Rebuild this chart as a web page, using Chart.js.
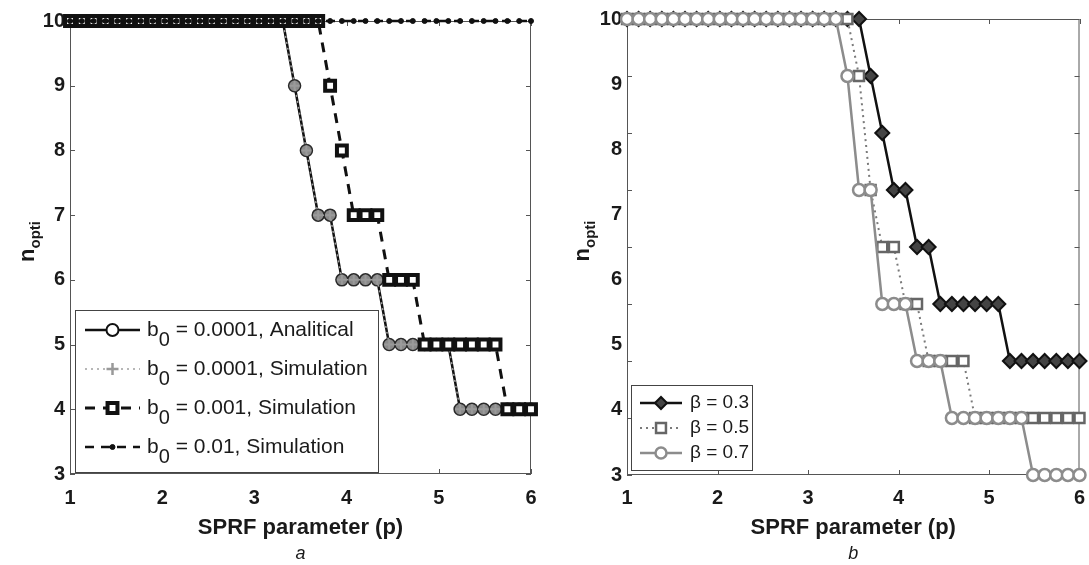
<!DOCTYPE html>
<html>
<head>
<meta charset="utf-8">
<script src="https://cdn.jsdelivr.net/npm/chart.js@4.4.1/dist/chart.umd.min.js"></script>
<style>
  body { margin: 0; background: #fff; width: 1089px; height: 565px; position: relative; overflow: hidden; }
  .panel { position: absolute; top: 0; }
  #panelA { left: 0; }
  #panelB { left: 550px; }
</style>
</head>
<body>
<div class="panel" id="panelA"><canvas id="chartA" width="550" height="565"></canvas></div>
<div class="panel" id="panelB"><canvas id="chartB" width="539" height="565"></canvas></div>
<script>
// SPRF parameter grid, 40 samples between 1 and 6
const pValues = [1.000, 1.128, 1.256, 1.385, 1.513, 1.641, 1.769, 1.897, 2.026, 2.154,
                 2.282, 2.410, 2.538, 2.667, 2.795, 2.923, 3.051, 3.179, 3.308, 3.436,
                 3.564, 3.692, 3.821, 3.949, 4.077, 4.205, 4.333, 4.462, 4.590, 4.718,
                 4.846, 4.974, 5.103, 5.231, 5.359, 5.487, 5.615, 5.744, 5.872, 6.000];

// (a) optimum n for different b0
const nAnalit0001 = [10, 10, 10, 10, 10, 10, 10, 10, 10, 10, 10, 10, 10, 10, 10, 10, 10, 10, 10, 9,
                     8, 7, 7, 6, 6, 6, 6, 5, 5, 5, 5, 5, 5, 4, 4, 4, 4, 4, 4, 4];
const nSim0001    = [10, 10, 10, 10, 10, 10, 10, 10, 10, 10, 10, 10, 10, 10, 10, 10, 10, 10, 10, 9,
                     8, 7, 7, 6, 6, 6, 6, 5, 5, 5, 5, 5, 5, 4, 4, 4, 4, 4, 4, 4];
const nSim001     = [10, 10, 10, 10, 10, 10, 10, 10, 10, 10, 10, 10, 10, 10, 10, 10, 10, 10, 10, 10,
                     10, 10, 9, 8, 7, 7, 7, 6, 6, 6, 5, 5, 5, 5, 5, 5, 5, 4, 4, 4];
const nSim01      = [10, 10, 10, 10, 10, 10, 10, 10, 10, 10, 10, 10, 10, 10, 10, 10, 10, 10, 10, 10,
                     10, 10, 10, 10, 10, 10, 10, 10, 10, 10, 10, 10, 10, 10, 10, 10, 10, 10, 10, 10];

// (b) optimum n for different beta
const nBeta03 = [10, 10, 10, 10, 10, 10, 10, 10, 10, 10, 10, 10, 10, 10, 10, 10, 10, 10, 10, 10,
                 10, 9, 8, 7, 7, 6, 6, 5, 5, 5, 5, 5, 5, 4, 4, 4, 4, 4, 4, 4];
const nBeta05 = [10, 10, 10, 10, 10, 10, 10, 10, 10, 10, 10, 10, 10, 10, 10, 10, 10, 10, 10, 10,
                 9, 7, 6, 6, 5, 5, 4, 4, 4, 4, 3, 3, 3, 3, 3, 3, 3, 3, 3, 3];
const nBeta07 = [10, 10, 10, 10, 10, 10, 10, 10, 10, 10, 10, 10, 10, 10, 10, 10, 10, 10, 10, 9,
                 7, 7, 5, 5, 5, 4, 4, 4, 3, 3, 3, 3, 3, 3, 3, 2, 2, 2, 2, 2];

// axis ticks
const pTicks = [1, 2, 3, 4, 5, 6];
const nTickLabels = [10, 9, 8, 7, 6, 5, 4, 3];
const nTicksB = [10, 9, 8, 7, 6, 5, 4, 3, 2];

const fontFamily = "'Liberation Sans', Arial, Helvetica, sans-serif";
const ink = '#1a1a1a';

const toPoints = ys => pValues.map((p, i) => ({ x: p, y: ys[i] }));

// writes text pieces left to right, pieces flagged true are subscripts
function drawRich(ctx, parts, x, y, f) {
  let cx = x;
  for (const [text, sub] of parts) {
    ctx.font = `${f.weight} ${sub ? f.subSize : f.size}px ${fontFamily}`;
    ctx.fillText(text, cx, sub ? y + f.subShift : y);
    cx += ctx.measureText(text).width;
  }
  return cx;
}

function richWidth(ctx, parts, f) {
  let w = 0;
  for (const [text, sub] of parts) {
    ctx.font = `${f.weight} ${sub ? f.subSize : f.size}px ${fontFamily}`;
    w += ctx.measureText(text).width;
  }
  return w;
}

// axes box with inward ticks, y title, legend and panel letter
const panelDeco = {
  id: 'panelDeco',
  beforeDatasetsDraw(chart, args, o) {
    const { ctx, chartArea: a, scales } = chart;
    const xs = scales.x, ys = scales[o.markScale];
    ctx.save();
    ctx.strokeStyle = '#555';
    ctx.lineWidth = 1;
    ctx.strokeRect(a.left + 0.5, a.top + 0.5, a.width - 1, a.height - 1);
    ctx.beginPath();
    pTicks.forEach(v => {
      const px = Math.round(xs.getPixelForValue(v)) + 0.5;
      ctx.moveTo(px, a.bottom); ctx.lineTo(px, a.bottom - 5);
      ctx.moveTo(px, a.top); ctx.lineTo(px, a.top + 5);
    });
    o.markTicks.forEach(v => {
      const py = Math.round(ys.getPixelForValue(v)) + 0.5;
      ctx.moveTo(a.left, py); ctx.lineTo(a.left + 5, py);
      ctx.moveTo(a.right, py); ctx.lineTo(a.right - 5, py);
    });
    ctx.stroke();
    ctx.restore();
  },
  afterDatasetsDraw(chart, args, o) {
    const { ctx, chartArea: a } = chart;
    ctx.save();
    ctx.fillStyle = ink;
    ctx.textBaseline = 'middle';

    // y title n_opti
    const tf = { weight: 'bold', size: 22, subSize: 15, subShift: 8 };
    const tParts = [['n', false], ['opti', true]];
    ctx.translate(o.titleX, (a.top + a.bottom) / 2 - 6);
    ctx.rotate(-Math.PI / 2);
    drawRich(ctx, tParts, -richWidth(ctx, tParts, tf) / 2, 0, tf);
    ctx.setTransform(1, 0, 0, 1, 0, 0);

    // legend
    const L = o.legend;
    ctx.fillStyle = '#fff';
    ctx.fillRect(L.x, L.y, L.w, L.h);
    ctx.strokeStyle = '#444';
    ctx.lineWidth = 1;
    ctx.strokeRect(L.x + 0.5, L.y + 0.5, L.w, L.h);
    L.items.forEach((it, k) => {
      const cy = L.firstY + k * L.gap;
      ctx.save();
      ctx.strokeStyle = it.line.color;
      ctx.lineWidth = it.line.width;
      ctx.setLineDash(it.line.dash);
      ctx.beginPath();
      ctx.moveTo(L.lineX0, cy); ctx.lineTo(L.lineX1, cy);
      ctx.stroke();
      ctx.setLineDash([]);
      ctx.fillStyle = it.mark.fill;
      ctx.strokeStyle = it.mark.stroke;
      ctx.lineWidth = it.mark.bw;
      Chart.helpers.drawPoint(ctx, { pointStyle: it.mark.style, radius: it.mark.r, rotation: 0, borderWidth: it.mark.bw },
        (L.lineX0 + L.lineX1) / 2, cy);
      ctx.restore();
      ctx.fillStyle = ink;
      drawRich(ctx, it.parts, L.textX, cy, L.font);
    });

    // panel letter
    ctx.font = `italic 18px ${fontFamily}`;
    ctx.textAlign = 'center';
    ctx.fillStyle = ink;
    ctx.fillText(o.letter, (a.left + a.right) / 2, o.letterY);
    ctx.restore();
  }
};

function xScale(height, labelPad, titlePad) {
  return {
    type: 'linear', min: 1, max: 6,
    afterBuildTicks: s => { s.ticks = pTicks.map(v => ({ value: v })); },
    afterFit: s => {
      s.height = height;
      // end labels may hang past the plot box
      s.paddingLeft = 0;
      s.paddingRight = 0;
    },
    grid: { display: false, drawTicks: false },
    border: { display: false },
    ticks: { color: ink, padding: labelPad, autoSkip: false, maxRotation: 0,
             font: { family: fontFamily, size: 20, weight: 'bold' } },
    title: { display: true, text: 'SPRF parameter (p)', color: ink,
             font: { family: fontFamily, size: 22, weight: 'bold' },
             padding: { top: 0, bottom: titlePad } }
  };
}

function labelScale(width) {
  return {
    type: 'linear', position: 'left', min: 3, max: 10,
    afterBuildTicks: s => { s.ticks = nTickLabels.map(v => ({ value: v })); },
    afterFit: s => { s.width = width; },
    grid: { display: false, drawTicks: false },
    border: { display: false },
    ticks: { color: ink, padding: 5, font: { family: fontFamily, size: 20, weight: 'bold' } }
  };
}

function series(data, style, order, yAxisID) {
  return Object.assign({
    data: toPoints(data), order, yAxisID, clip: false, tension: 0, fill: false
  }, style);
}

// panel a
new Chart(document.getElementById('chartA'), {
  type: 'line',
  data: {
    datasets: [
      series(nAnalit0001, {
        label: 'b0 = 0.0001, Analitical', borderColor: '#111', borderWidth: 2.5,
        pointStyle: 'circle', pointRadius: 6, pointBackgroundColor: '#8a8a8a',
        pointBorderColor: '#2a2a2a', pointBorderWidth: 1.5
      }, 4, 'y'),
      series(nSim0001, {
        label: 'b0 = 0.0001, Simulation', borderColor: '#a0a0a0', borderWidth: 1.5, borderDash: [2, 4],
        pointStyle: 'cross', pointRadius: 5, pointBorderColor: '#9a9a9a', pointBorderWidth: 2
      }, 3, 'y'),
      series(nSim001, {
        label: 'b0 = 0.001, Simulation', borderColor: '#111', borderWidth: 3, borderDash: [10, 8],
        pointStyle: 'rect', pointRadius: 7, pointBackgroundColor: '#fff',
        pointBorderColor: '#111', pointBorderWidth: 4
      }, 2, 'y'),
      series(nSim01, {
        label: 'b0 = 0.01, Simulation', borderColor: '#111', borderWidth: 2.5, borderDash: [9, 7],
        pointStyle: 'circle', pointRadius: 2.5, pointBackgroundColor: '#111',
        pointBorderColor: '#111', pointBorderWidth: 1
      }, 1, 'y')
    ]
  },
  options: {
    responsive: false, animation: false,
    layout: { padding: { top: 21, right: 19, left: 0, bottom: 0 } },
    scales: { x: xScale(91, 12, 24), y: labelScale(70) },
    plugins: {
      legend: { display: false }, tooltip: { enabled: false },
      panelDeco: {
        markScale: 'y', markTicks: nTickLabels, titleX: 28, letter: 'a', letterY: 554,
        legend: {
          x: 75, y: 310, w: 303, h: 162, firstY: 330, gap: 39,
          lineX0: 85, lineX1: 140, textX: 147,
          font: { weight: 'normal', size: 21, subSize: 20, subShift: 10 },
          items: [
            { parts: [['b', false], ['0', true], [' = 0.0001, Analitical', false]],
              line: { color: '#111', width: 2.5, dash: [] },
              mark: { style: 'circle', r: 6, fill: '#fff', stroke: '#111', bw: 2 } },
            { parts: [['b', false], ['0', true], [' = 0.0001, Simulation', false]],
              line: { color: '#a0a0a0', width: 1.5, dash: [2, 4] },
              mark: { style: 'cross', r: 6, fill: '#999', stroke: '#999', bw: 2.5 } },
            { parts: [['b', false], ['0', true], [' = 0.001, Simulation', false]],
              line: { color: '#111', width: 3, dash: [10, 8] },
              mark: { style: 'rect', r: 7, fill: '#fff', stroke: '#111', bw: 4 } },
            { parts: [['b', false], ['0', true], [' = 0.01, Simulation', false]],
              line: { color: '#111', width: 2.5, dash: [9, 7] },
              mark: { style: 'circle', r: 2.5, fill: '#111', stroke: '#111', bw: 1 } }
          ]
        }
      }
    }
  },
  plugins: [panelDeco]
});

// panel b: data on an integer n scale, label axis kept as printed
new Chart(document.getElementById('chartB'), {
  type: 'line',
  data: {
    datasets: [
      series(nBeta03, {
        label: 'β = 0.3', borderColor: '#111', borderWidth: 2.5,
        pointStyle: 'rectRot', pointRadius: 7, pointBackgroundColor: '#444',
        pointBorderColor: '#111', pointBorderWidth: 2
      }, 3, 'n'),
      series(nBeta05, {
        label: 'β = 0.5', borderColor: '#7a7a7a', borderWidth: 2, borderDash: [2, 4],
        pointStyle: 'rect', pointRadius: 7, pointBackgroundColor: '#fff',
        pointBorderColor: '#666', pointBorderWidth: 2.5
      }, 2, 'n'),
      series(nBeta07, {
        label: 'β = 0.7', borderColor: '#8c8c8c', borderWidth: 2.5,
        pointStyle: 'circle', pointRadius: 6, pointBackgroundColor: '#fff',
        pointBorderColor: '#8c8c8c', pointBorderWidth: 2.5
      }, 1, 'n')
    ]
  },
  options: {
    responsive: false, animation: false,
    layout: { padding: { top: 19, right: 8, left: 0, bottom: 0 } },
    scales: {
      x: xScale(90, 11, 24),
      n: { type: 'linear', position: 'left', min: 2, max: 10, display: false },
      y: labelScale(77)
    },
    plugins: {
      legend: { display: false }, tooltip: { enabled: false },
      panelDeco: {
        markScale: 'n', markTicks: nTicksB, titleX: 33, letter: 'b', letterY: 554,
        legend: {
          x: 81, y: 385, w: 121, h: 85, firstY: 403, gap: 25,
          lineX0: 90, lineX1: 132, textX: 140,
          font: { weight: 'normal', size: 19, subSize: 18, subShift: 9 },
          items: [
            { parts: [['β = 0.3', false]], line: { color: '#111', width: 2.5, dash: [] },
              mark: { style: 'rectRot', r: 6, fill: '#444', stroke: '#111', bw: 2 } },
            { parts: [['β = 0.5', false]], line: { color: '#7a7a7a', width: 2, dash: [2, 4] },
              mark: { style: 'rect', r: 7, fill: '#fff', stroke: '#666', bw: 2.5 } },
            { parts: [['β = 0.7', false]], line: { color: '#8c8c8c', width: 2.5, dash: [] },
              mark: { style: 'circle', r: 5.5, fill: '#fff', stroke: '#8c8c8c', bw: 2.5 } }
          ]
        }
      }
    }
  },
  plugins: [panelDeco]
});
</script>
</body>
</html>
